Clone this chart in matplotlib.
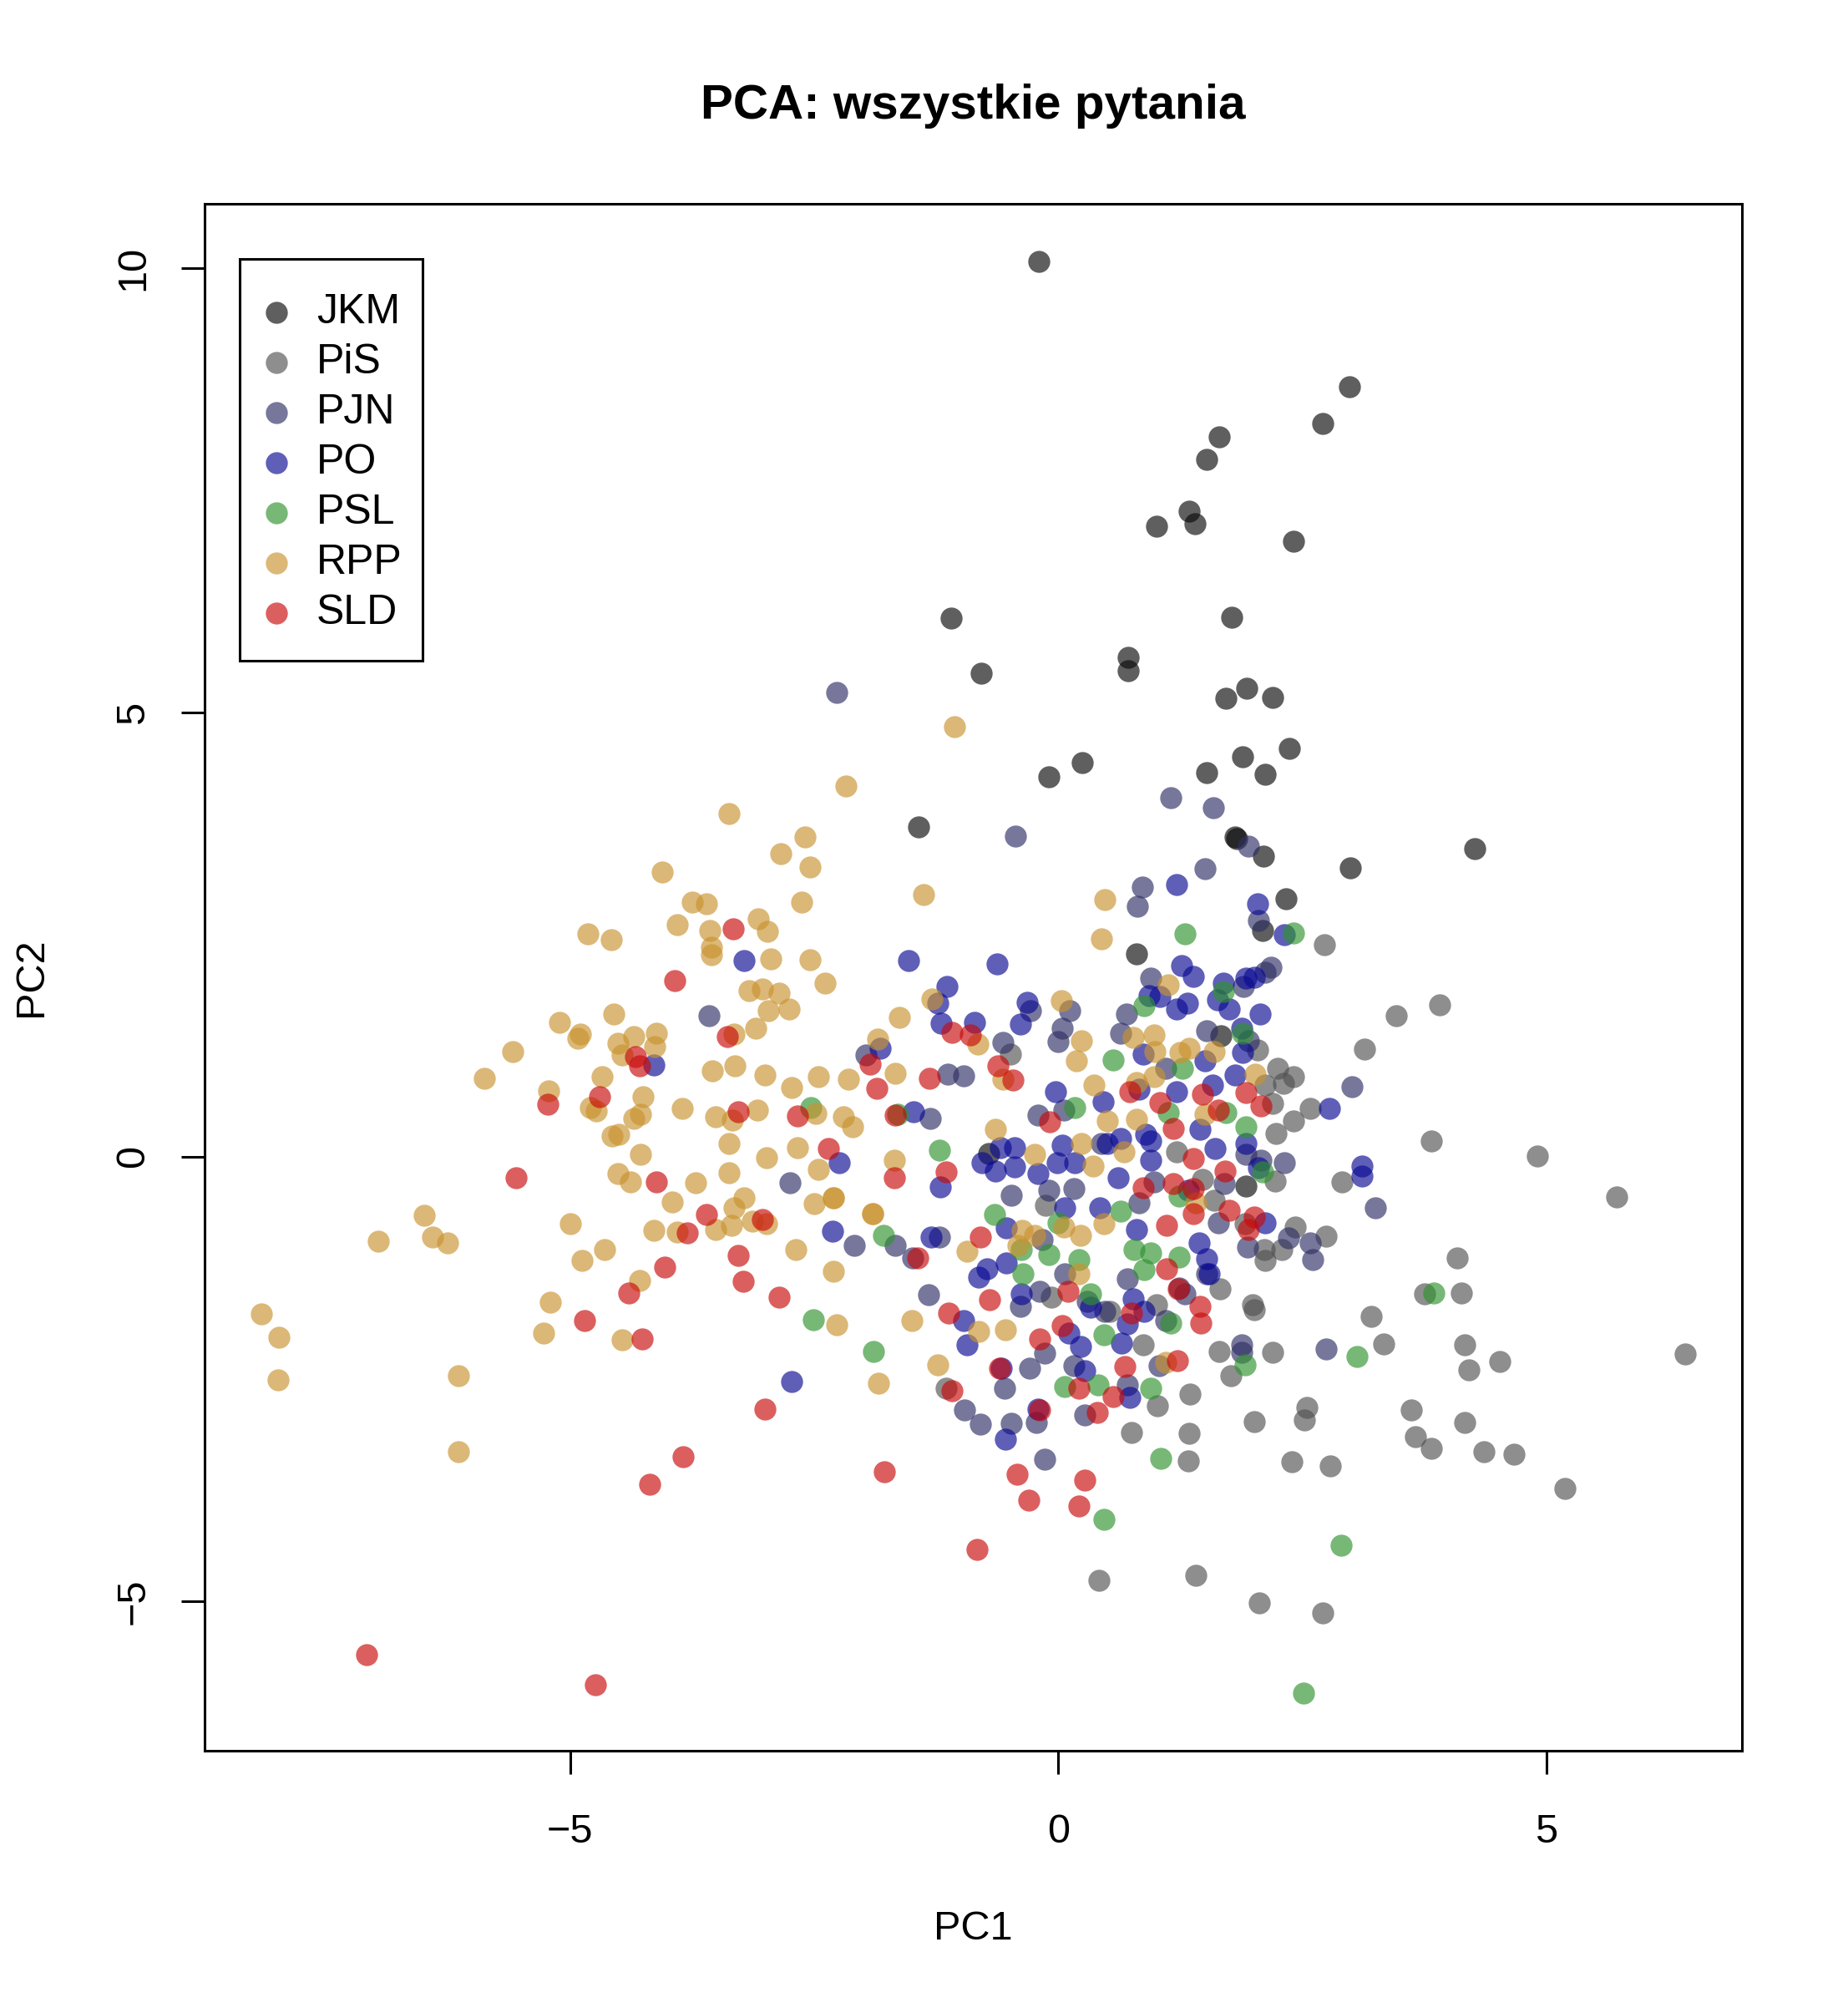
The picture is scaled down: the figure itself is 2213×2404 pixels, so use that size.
import numpy as np
import matplotlib
matplotlib.use("Agg")
import matplotlib.pyplot as plt
from matplotlib.patches import Rectangle

plt.rcParams['font.family'] = ['Liberation Sans', 'DejaVu Sans']

# PCA scores (PC1, PC2) per party
jkm_x = [-0.20, 2.98, 2.71, 1.65, 1.52, 1.34, 1.40, 1.01, 2.41, -1.10, 1.78, 0.72, 0.72, -0.79,
         1.93, 2.20, 1.72, 2.37, 1.89, -0.10, 0.25, 1.52, 2.12, 4.27, -1.43, 1.83, 1.81, 2.10,
         2.99, 2.33, 2.09, 0.80, 1.67, 1.92, -0.71]
jkm_y = [10.08, 8.67, 8.25, 8.10, 7.85, 7.27, 7.12, 7.10, 6.93, 6.06, 6.07, 5.62, 5.47, 5.44,
         5.27, 5.17, 5.16, 4.60, 4.50, 4.28, 4.44, 4.32, 4.30, 3.47, 3.71, 3.58, 3.60, 3.38,
         3.25, 2.90, 2.55, 2.28, 1.36, -0.33, 0.04]

pis_x = [-0.49, 2.73, 3.91, 3.46, 3.14, 2.25, 2.41, 2.31, 2.12, 2.58, 2.41, 2.23, 3.82, 2.04, 1.21,
         -0.07, -0.13, -1.15, 2.91, 2.43, 2.74, 2.29, 2.11, 2.12, 1.91, 1.66, 1.99, 2.01, 3.75,
         3.21, 3.33, 1.65, 2.20, 1.77, 1.35, 0.87, 1.02, 0.75, 1.34, 1.33, 2.01, 2.55, 2.52, 2.39,
         2.79, 3.62, 3.66, 3.82, 1.60, 1.48, 2.22, 1.01, 0.53, 4.91, 5.72, 4.09, 4.13, 4.16, 4.21,
         4.52, 6.42, 4.16, 4.36, 4.67, 5.19, 0.42, 1.41, 2.06, 2.71, 2.20]
pis_y = [1.16, 2.39, 1.71, 1.59, 1.21, 1.00, 0.90, 0.83, 0.81, 0.54, 0.40, 0.26, 0.18, 1.20, 0.06,
         -1.58, -0.55, -2.60, -0.28, -0.79, -0.89, -1.04, -1.04, -1.17, -0.75, -1.49, -1.66, -1.72, -1.54,
         -1.80, -2.11, -2.19, -2.20, -2.46, -2.67, -2.12, -2.80, -3.10, -3.11, -3.42, -2.98, -2.82, -2.96, -3.43,
         -3.48, -2.85, -3.15, -3.28, -0.49, -0.25, -0.27, -1.66, -1.74, 0.01, -0.45, -1.14, -1.53, -2.12, -2.40,
         -2.30, -2.22, -2.99, -3.32, -3.35, -3.73, -4.77, -4.71, -5.02, -5.13, 0.60]

pjn_x = [-2.27, -3.58, -0.44, -0.28, 0.12, 0.04, 0.00, -0.57, -1.97, -1.13, -0.97, -0.21, 0.06, -1.31,
         1.15, 1.59, 1.95, 1.50, 0.86, 0.81, 2.05, 0.95, 2.18, 2.12, 1.90, 0.70, 0.64, 1.52, 3.01, 1.95,
         0.44, 1.10, 2.32, -2.75, -2.09, -1.67, -1.49, -1.22, -1.33, -0.48, -0.10, 0.16, -0.16, 0.07,
         -0.19, -0.39, -0.14, -0.29, -0.55, 0.16, -0.96, -0.80, -0.48, -0.22, -0.14, 0.27, 3.25, 1.70,
         1.64, 2.58, 2.61, 2.36, 1.94, 2.74, 1.88, 1.88, 1.10, 1.24, 0.71, 1.52, 1.30, 0.83, 0.30, 0.48,
         0.71, 1.03, 1.92, 2.08, 0.98]
pjn_y = [5.23, 1.59, 3.61, 1.64, 1.64, 1.45, 1.30, 1.29, 1.15, 0.93, 0.91, 0.47, 0.53, 0.43,
         4.04, 3.93, 3.50, 3.24, 3.04, 2.82, 2.66, 2.01, 2.13, 2.08, 1.92, 1.61, 1.39, 1.42, 0.79, 1.31,
         0.15, 1.00, -0.07, -0.29, -1.00, -1.00, -1.14, -0.90, -1.55, -0.43, -0.38, -0.36, -0.93, -1.32,
         -1.51, -1.68, -2.21, -2.38, -2.60, -2.35, -2.85, -3.01, -3.00, -2.99, -3.40, -2.91, -0.57, -0.30,
         -0.74, -0.97, -1.16, -0.91, -1.02, -2.16, -2.12, -2.20, -1.84, -1.48, -1.37, -1.32, -1.54, -0.52, -1.63, -1.74,
         -2.57, -2.35, 0.03, -0.04, -0.28]

po_x = [-4.14, -3.22, -1.53, -0.63, -1.14, -1.23, -1.20, -0.86, -0.32, -0.39, -1.82, -0.03, -1.48,
        -0.59, -0.45, 0.04, -2.24, -0.78, -0.01, 0.17, -0.45, 1.21, 2.04, 2.32, 1.26, 1.38, 1.69, 1.92,
        2.01, 1.63, 1.75, 2.07, 1.32, 1.21, 0.93, 1.88, 1.04, 0.87, 1.50, 1.89, 2.78, 3.11, 0.46, 0.90,
        0.95, 0.50, 0.64, 1.45, 1.61, 1.92, 0.95, 1.21, 1.58, 1.81, 0.83, -2.31, -1.21, -2.73, -1.30,
        -0.53, -0.73, -0.81, -0.38, -0.97, -0.93, -0.54, -0.21, -0.58, 0.11, 0.23, -0.64, -0.21, 0.07,
        -0.53, 3.11, 2.12, 1.44, 1.52, 1.55, 0.80, 0.43, 0.77, 0.88, 0.71, 0.65, 0.27, 0.73, 0.61, 1.33,
        0.33, 2.05]
po_y = [1.03, 2.21, 2.21, 2.17, 1.92, 1.73, 1.50, 1.51, 1.74, 1.49, 1.22, 0.73, 0.51,
        0.10, 0.10, 0.13, -0.07, -0.07, -0.07, -0.07, -0.11, 3.06, 2.85, 2.50, 2.15, 2.03, 1.95, 2.01,
        2.02, 1.77, 1.66, 1.61, 1.73, 1.66, 1.81, 1.45, 1.80, 1.16, 1.08, 1.17, 0.54, -0.10, 0.62, 0.25,
        0.18, 0.15, 0.21, 0.31, 0.09, 0.15, -0.04, 0.73, 0.81, 0.92, 0.76, -0.84, -0.34, -2.53, -0.90,
        -1.19, -1.26, -1.35, -1.54, -1.84, -2.12, -3.18, -2.84, -2.38, -1.98, -2.13, -0.16, -0.19, -0.57,
        -0.80, -0.22, -0.74, -0.97, -1.15, -1.32, -0.82, -0.57, -1.60, -1.74, -1.88, -2.10, -2.41, -2.71, -0.24, -0.38,
        -1.69, -0.12]

psl_x = [-2.53, -1.64, 0.17, -1.22, 1.30, 2.41, 0.88, 1.69, 0.56, 1.89, 1.27, 1.72, 1.92, 1.13,
         -1.79, -2.51, -1.89, -0.65, -0.36, -0.10, 0.00, -0.38, 0.07, 0.21, 2.09, 3.85, 3.06, 1.91,
         1.05, 0.47, 1.15, 0.47, 0.41, 0.95, 0.95, 0.78, 1.24, 0.88, 0.64, 1.24, 0.33, 2.90, 2.51]
psl_y = [0.55, 0.48, 0.55, 0.07, 2.51, 2.52, 1.70, 1.86, 1.09, 1.39, 1.00, 0.50, 0.34, 0.50,
         -0.88, -1.83, -2.19, -0.65, -1.32, -1.10, -0.74, -1.04, -2.59, -1.16, -0.17, -1.53, -2.25, -2.34,
         -3.39, -4.08, -1.87, -2.00, -2.57, -2.60, -1.08, -1.04, -1.13, -1.27, -0.61, -0.44, -1.54, -4.37, -6.04]

rpp_x = [-1.06,
         -4.06, -3.75, -3.60, -3.90, -3.57, -3.55, -3.55, -4.82, -4.58, -4.55, -5.11, -4.89, -4.92,
         -4.51, -4.35, -4.12, -4.13, -4.47, -5.59, -5.88, -4.67, -3.54, -5.22, -4.25, -4.79, -4.73,
         -4.35, -4.28, -3.85, -3.51, -4.57, -4.50, -4.28, -4.51, -4.38, -3.71, -3.95, -6.49, -6.41,
         -6.25, -6.96, -5.00, -4.14, -3.90, -4.65, -3.51,
         -4.88, -4.29, -5.20, -5.27, -4.47, -8.16, -7.98, -7.99, -6.14, -6.14,
         -2.17, -3.37, -2.59, -2.84, -2.54, -1.38, -2.63, -3.07, -2.98, -2.94, -2.54, -2.39, -3.17,
         -3.03, -2.86, -2.97, -2.76, -3.10, -3.32, -1.63, -1.29, -1.85, -3.31, -3.00, -2.73, -2.46,
         -2.15, -1.67, -0.82, -0.57, 0.03, 0.24, 0.19, -3.08, -3.34, -2.48, -2.20, -2.11, -3.37,
         -2.67, -2.99, -1.68, -0.64, -0.24, 0.24,
         0.48, 0.44, 1.13, 0.37, 0.77, 0.98, 1.34, 1.25, 0.99, 1.60, 2.02, 0.80, 0.98, 0.50, 0.80,
         1.50, 0.67, 0.36,
         -3.37, -2.46, -3.22, -3.32, -3.35, -3.13, -2.99, -2.50, -2.30, -2.30, -1.90, -1.90, -2.69,
         -2.30, -2.27, -1.50, -1.23, -1.84, -0.93, -0.81, -0.54, -0.37, -0.24, -0.41, 0.06, 0.23, 0.21,
         1.10, 1.41, 0.47]
rpp_y = [4.84,
         3.20, 2.87, 2.85, 2.61, 2.55, 2.36, 2.27, 2.51, 2.44, 1.61, 1.51, 1.38, 1.33,
         1.28, 1.35, 1.39, 1.24, 1.15, 1.18, 0.88, 0.90, 0.97, 0.74, 0.68, 0.55, 0.52,
         0.43, 0.48, 0.54, 0.45, 0.23, 0.25, 0.03, -0.19, -0.28, -0.29, -0.51, -0.66, -0.90,
         -0.97, -0.95, -0.75, -0.83, -0.85, -1.04, -0.82,
         -1.17, -1.39, -1.64, -1.98, -2.06, -1.77, -2.03, -2.51, -2.46, -3.32,
         4.17, 3.86, 3.60, 3.41, 3.26, 2.95, 2.87, 2.68, 2.54, 2.23, 2.22, 1.95, 1.87,
         1.89, 1.84, 1.64, 1.66, 1.45, 1.38, 1.57, 1.78, 1.32, 1.02, 0.92, 0.78, 0.90,
         0.87, 0.94, 1.27, 0.87, 1.76, 1.31, 1.08, 0.53, 0.41, 0.49, 0.45, 0.34, 0.15,
         0.10, -0.01, -0.04, 0.31, 0.03, 0.15,
         2.89, 2.45, 1.94, 0.81, 1.34, 1.37, 1.22, 1.17, 1.18, 1.18, 0.93, 0.84, 0.90, 0.40, 0.42,
         0.48, 0.06, -0.10,
         -0.18, -0.14, -0.46, -0.57, -0.77, -0.72, -0.75, -0.53, -0.46, -0.46, -0.64, -0.64, -1.04,
         -1.29, -1.89, -1.84, -2.34, -2.55, -1.06, -1.97, -1.95, -0.83, -0.88, -1.00, -0.79, -0.88, -1.32,
         -2.31, -0.52, -0.75]

sld_x = [-3.93, -4.33, -4.29, -4.70, -5.23, -5.55, -4.12, -3.60, -3.80,
         -4.03, -4.40, -4.85, -4.26, -3.84, -4.18, -7.08, -4.74,
         -3.33, -3.39, -1.09, -0.90, -1.93, -1.86, -1.32, -0.62, -0.46, -3.28, -2.67, -1.67, -2.35, -0.09,
         2.08, 1.48, 1.92, 0.73, 1.64, 1.18, 1.04, 1.38,
         -1.68, -1.15, -3.03, -3.28, -3.23, -2.86, -3.00, -1.78, -0.80, -1.44, -1.12, -0.70, 0.10, 0.04,
         -0.19, -0.60, -1.09, -0.19, 0.21, -0.42, -0.30, 0.21, 0.27,
         1.75, 2.01, 1.95, 1.18, 1.38, 0.87, 1.71, 1.38, 1.11, 1.11, 1.45, 1.46, 1.22, 0.68, 0.75, 0.56,
         0.40, 1.23, -0.83]
sld_y = [1.98, 1.13, 1.02, 0.68, 0.59, -0.24, -0.28, -0.65, -0.86,
         -1.24, -1.53, -1.84, -2.05, -3.38, -3.69, -5.60, -5.94,
         2.57, 1.35, 1.40, 1.37, 1.04, 0.77, 0.88, 1.02, 0.86, 0.51, 0.46, 0.47, 0.09, 0.39,
         0.57, 0.70, 0.72, 0.73, 0.53, 0.32, 0.61, -0.02,
         -0.24, -0.17, -0.71, -1.11, -1.40, -1.58, -2.84, -3.54, -0.90, -1.14, -1.76, -1.61, -1.51, -1.90,
         -2.05, -2.38, -2.63, -2.85, -2.60, -3.57, -3.86, -3.93, -3.64,
         -0.60, -0.68, -0.82, -0.30, -0.36, -0.35, -0.16, -0.64, -0.77, -1.26, -1.68, -1.87, -2.29, -2.36, -1.76, -2.70,
         -2.88, -1.49, -4.42]

parties = ["JKM", "PiS", "PJN", "PO", "PSL", "RPP", "SLD"]
xs = [jkm_x, pis_x, pjn_x, po_x, psl_x, rpp_x, sld_x]
ys = [jkm_y, pis_y, pjn_y, po_y, psl_y, rpp_y, sld_y]
colors = ["#0a0a0a", "#515151", "#2f2f65", "#090993", "#2f932f", "#c9932f", "#c90909"]
alpha = 0.65
msize = 360

fig = plt.figure(figsize=(22.13, 24.04), dpi=100)
ax = fig.add_axes([0.1107, 0.1281, 0.8319, 0.7704])

for name, x, y, c in zip(parties, xs, ys, colors):
    ax.scatter(x, y, s=msize, color=c, alpha=alpha, linewidths=0)

# R style limits: data range plus 4%
allx = np.concatenate([np.array(v) for v in xs])
ally = np.concatenate([np.array(v) for v in ys])
padx = 0.04 * (allx.max() - allx.min())
pady = 0.04 * (ally.max() - ally.min())
ax.set_xlim(allx.min() - padx, allx.max() + padx)
ax.set_ylim(ally.min() - pady, ally.max() + pady)

ax.set_xticks([-5, 0, 5])
ax.set_yticks([-5, 0, 5, 10])
ax.tick_params(direction='out', length=20, width=2.2, labelsize=35)
ax.tick_params(axis='x', pad=34)
ax.tick_params(axis='y', pad=25)
for lab in ax.get_yticklabels():
    lab.set_rotation(90)
    lab.set_va('center')
for sp in ax.spines.values():
    sp.set_linewidth(2.2)

ax.set_xlabel("PC1", fontsize=35, labelpad=51)
ax.set_ylabel("PC2", fontsize=35, labelpad=56)
fig.text(0.5265, 0.947, "PCA: wszystkie pytania", fontsize=42, fontweight='bold',
         ha='center', va='center')

# legend box drawn the way R does it (axes fractions)
ax.add_patch(Rectangle((0.0228, 0.7047), 0.1189, 0.2597, transform=ax.transAxes,
                       fill=False, edgecolor='black', linewidth=2.2, zorder=5))
row_top, row_step = 0.9300, 0.0324
for i, (name, c) in enumerate(zip(parties, colors)):
    yy = row_top - i * row_step
    ax.scatter([0.0467], [yy], s=msize, color=c, alpha=alpha, linewidths=0,
               transform=ax.transAxes, clip_on=False, zorder=6)
    ax.text(0.0728, yy, name, fontsize=36, va='center', ha='left',
            transform=ax.transAxes, zorder=6)

fig.savefig("out.png", dpi=100)
